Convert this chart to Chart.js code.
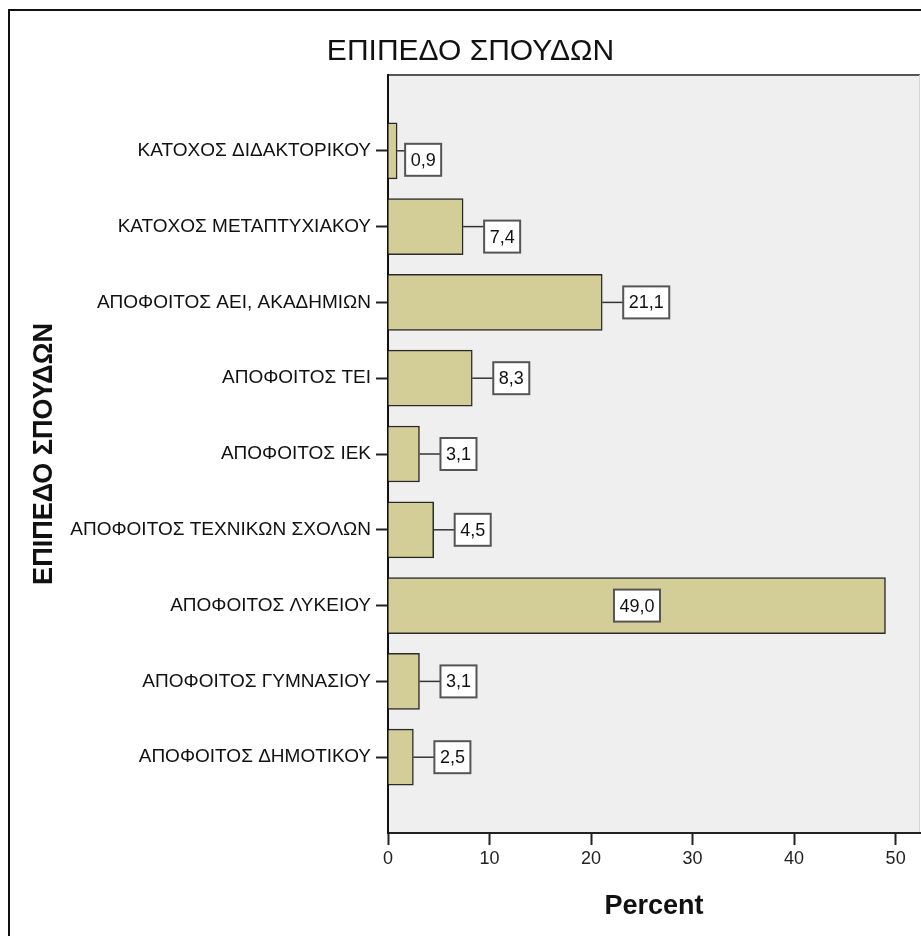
<!DOCTYPE html>
<html>
<head>
<meta charset="utf-8">
<script src="https://cdn.jsdelivr.net/npm/chart.js@4.4.1/dist/chart.umd.min.js"></script>
<style>
  html, body { margin: 0; padding: 0; background: #fff; }
  #wrap { width: 921px; height: 936px; position: relative; }
</style>
</head>
<body>
<div id="wrap"><canvas id="levelChart"></canvas></div>
<script>
// Education level of respondents (percent)
const levels = [
  'ΚΑΤΟΧΟΣ ΔΙΔΑΚΤΟΡΙΚΟΥ',
  'ΚΑΤΟΧΟΣ ΜΕΤΑΠΤΥΧΙΑΚΟΥ',
  'ΑΠΟΦΟΙΤΟΣ ΑΕΙ, ΑΚΑΔΗΜΙΩΝ',
  'ΑΠΟΦΟΙΤΟΣ ΤΕΙ',
  'ΑΠΟΦΟΙΤΟΣ ΙΕΚ',
  'ΑΠΟΦΟΙΤΟΣ ΤΕΧΝΙΚΩΝ ΣΧΟΛΩΝ',
  'ΑΠΟΦΟΙΤΟΣ ΛΥΚΕΙΟΥ',
  'ΑΠΟΦΟΙΤΟΣ ΓΥΜΝΑΣΙΟΥ',
  'ΑΠΟΦΟΙΤΟΣ ΔΗΜΟΤΙΚΟΥ'
];
const percents = [0.9, 7.4, 21.1, 8.3, 3.1, 4.5, 49.0, 3.1, 2.5];
const percentTicks = [0, 10, 20, 30, 40, 50];

const FONT = '"Liberation Sans", Arial, sans-serif';

// one empty slot above and below the categories, like the SPSS layout
const axisLabels = [''].concat(levels, ['']);
const axisValues = [null].concat(percents, [null]);

function fmt(v) {
  return v.toFixed(1).replace('.', ',');
}

// page frame + grey plot background
const backdrop = {
  id: 'backdrop',
  beforeDraw(chart) {
    const ctx = chart.ctx;
    const a = chart.chartArea;
    ctx.save();
    ctx.fillStyle = '#fff';
    ctx.fillRect(0, 0, chart.width, chart.height);

    ctx.strokeStyle = '#111';
    ctx.lineWidth = 2;
    ctx.beginPath();
    ctx.moveTo(9, chart.height);
    ctx.lineTo(9, 10);
    ctx.lineTo(chart.width, 10);
    ctx.stroke();

    ctx.fillStyle = '#efefef';
    ctx.fillRect(a.left, a.top, a.right - a.left, a.bottom - a.top);

    ctx.strokeStyle = '#555';
    ctx.lineWidth = 2;
    ctx.beginPath();
    ctx.moveTo(a.left, a.top);
    ctx.lineTo(a.right, a.top);
    ctx.stroke();

    ctx.strokeStyle = '#d6d6d6';
    ctx.lineWidth = 1;
    ctx.beginPath();
    ctx.moveTo(a.right - 0.5, a.top);
    ctx.lineTo(a.right - 0.5, a.bottom);
    ctx.stroke();
    ctx.restore();
  }
};

// boxed value labels with a short leader line
const valueBoxes = {
  id: 'valueBoxes',
  afterDatasetsDraw(chart, args, opts) {
    const ctx = chart.ctx;
    const area = chart.chartArea;
    const meta = chart.getDatasetMeta(0);
    const values = chart.data.datasets[0].data;
    ctx.save();
    ctx.font = '18px ' + FONT;
    ctx.textBaseline = 'middle';
    ctx.textAlign = 'center';
    meta.data.forEach((bar, i) => {
      const v = values[i];
      if (v == null) return;
      const text = fmt(v);
      const w = ctx.measureText(text).width + 11;
      const h = 32;
      const nudge = opts.nudges[i] || {};
      const gap = nudge.gap != null ? nudge.gap : opts.gap;
      const dy = nudge.dy || 0;
      let bx, by = bar.y + dy - h / 2;
      if (bar.x + gap + w > area.right) {
        // no room on the right, put it inside the bar
        bx = (bar.base + bar.x) / 2 - w / 2;
      } else {
        bx = bar.x + gap;
        ctx.strokeStyle = '#333';
        ctx.lineWidth = 1.5;
        ctx.beginPath();
        ctx.moveTo(bar.x, bar.y);
        ctx.lineTo(bx, bar.y);
        ctx.stroke();
      }
      ctx.fillStyle = '#fff';
      ctx.fillRect(bx, by, w, h);
      ctx.strokeStyle = '#555';
      ctx.lineWidth = 2;
      ctx.strokeRect(bx, by, w, h);
      ctx.fillStyle = '#111';
      ctx.fillText(text, bx + w / 2, by + h / 2 + 1);
    });
    ctx.restore();
  }
};

new Chart(document.getElementById('levelChart'), {
  type: 'bar',
  data: {
    labels: axisLabels,
    datasets: [{
      label: 'Percent',
      data: axisValues,
      backgroundColor: '#d3ce97',
      borderColor: '#2a2a2a',
      borderWidth: 1.5,
      barThickness: 56
    }]
  },
  options: {
    indexAxis: 'y',
    responsive: true,
    maintainAspectRatio: false,
    animation: false,
    layout: { padding: { left: 21, top: 0, right: 1, bottom: 0 } },
    plugins: {
      legend: { display: false },
      tooltip: { enabled: false },
      title: {
        display: true,
        text: 'ΕΠΙΠΕΔΟ ΣΠΟΥΔΩΝ',
        color: '#111',
        font: { family: FONT, size: 30, weight: 'normal', lineHeight: 1.2 },
        padding: { top: 34, bottom: 5 }
      },
      valueBoxes: {
        gap: 21,
        nudges: { 1: { gap: 8, dy: 9 }, 2: { dy: 10 } }
      }
    },
    scales: {
      x: {
        type: 'linear',
        min: 0,
        max: 52.4,
        afterBuildTicks(scale) {
          scale.ticks = percentTicks.map(v => ({ value: v }));
        },
        afterFit(scale) { scale.height = 103; },
        border: { display: true, color: '#222', width: 2 },
        grid: {
          drawOnChartArea: false,
          drawTicks: true,
          tickLength: 12,
          tickWidth: 2,
          tickColor: '#222'
        },
        ticks: {
          color: '#222',
          padding: 3,
          font: { family: FONT, size: 18 },
          callback: v => String(v)
        },
        title: {
          display: true,
          text: 'Percent',
          color: '#111',
          font: { family: FONT, size: 27, weight: 'bold', lineHeight: 1.2 },
          padding: { top: 0, bottom: 13 }
        }
      },
      y: {
        type: 'category',
        offset: false,
        afterFit(scale) { scale.width = 367; },
        border: { display: true, color: '#111', width: 2 },
        grid: {
          offset: false,
          drawOnChartArea: false,
          drawTicks: true,
          tickLength: 12,
          tickWidth: 2,
          tickColor: c => (axisLabels[c.index] ? '#222' : 'rgba(0,0,0,0)')
        },
        ticks: {
          color: '#111',
          padding: 5,
          autoSkip: false,
          font: { family: FONT, size: 19 }
        },
        title: {
          display: true,
          text: 'ΕΠΙΠΕΔΟ ΣΠΟΥΔΩΝ',
          color: '#111',
          font: { family: FONT, size: 27, weight: 'bold', lineHeight: 1.2 },
          padding: { top: 7, bottom: 0 }
        }
      }
    }
  },
  plugins: [backdrop, valueBoxes]
});
</script>
</body>
</html>
